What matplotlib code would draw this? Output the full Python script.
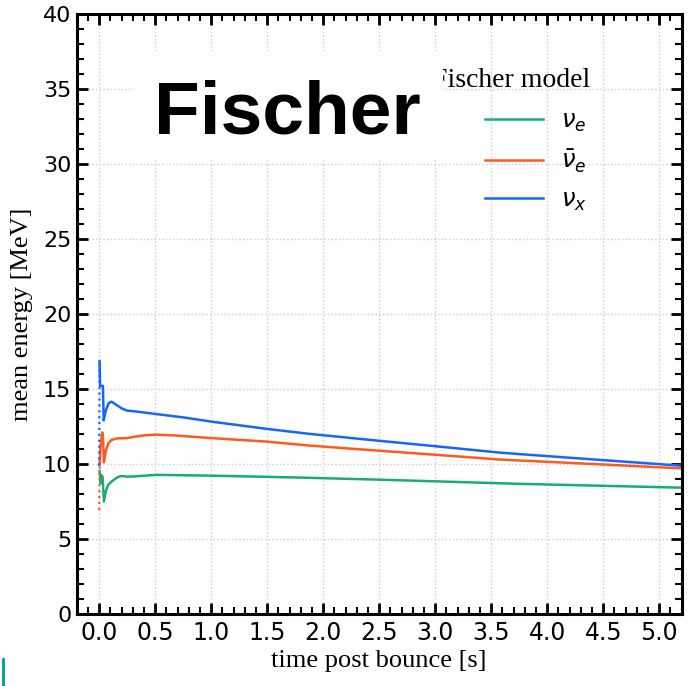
import matplotlib.pyplot as plt
from matplotlib.lines import Line2D
from matplotlib.patches import Rectangle
from matplotlib.ticker import MultipleLocator

# mean energies (t in s, E in MeV)
# first pair of each series is the short dotted rise at bounce
t_nue = [0.0, 0.005, 0.012, 0.02, 0.03, 0.042, 0.06, 0.08, 0.11, 0.16, 0.2, 0.25,
         0.32, 0.51, 0.98, 1.79, 2.5, 3.58, 3.76, 4.5, 5.18, 5.25]
e_nue = [10.0, 9.4, 8.7, 9.25, 9.15, 7.49, 8.2, 8.6, 8.82, 9.1, 9.2, 9.15,
         9.17, 9.27, 9.22, 9.09, 8.95, 8.71, 8.67, 8.54, 8.42, 8.41]

t_anue = [0.0, 0.004, 0.012, 0.027, 0.033, 0.042, 0.06, 0.08, 0.11, 0.16, 0.25,
          0.32, 0.4, 0.51, 0.69, 0.98, 1.49, 1.88, 2.5, 3.0, 3.58, 4.0, 4.5, 5.18, 5.25]
e_anue = [6.93, 10.0, 11.2, 12.1, 11.9, 10.1, 10.9, 11.35, 11.6, 11.7, 11.72,
          11.82, 11.9, 11.95, 11.89, 11.73, 11.49, 11.22, 10.88, 10.61, 10.29,
          10.14, 9.96, 9.71, 9.69]

t_nux = [0.0, 0.003, 0.008, 0.033, 0.04, 0.06, 0.085, 0.11, 0.15, 0.2, 0.25, 0.32,
         0.5, 0.75, 1.0, 1.5, 1.88, 2.5, 3.0, 3.58, 4.0, 4.5, 5.18, 5.25]
e_nux = [9.9, 16.85, 15.2, 15.2, 12.9, 13.6, 14.05, 14.15, 13.95, 13.7, 13.55, 13.5,
         13.33, 13.1, 12.82, 12.33, 12.0, 11.54, 11.18, 10.75, 10.52, 10.25, 9.89, 9.85]

labels = [r'$\nu_e$', r'$\bar{\nu}_e$', r'$\nu_x$']
colors = ['#1aab78', '#ff5a1e', '#1565ff']
series = [(t_nue, e_nue), (t_anue, e_anue), (t_nux, e_nux)]

fig = plt.figure(figsize=(6.92, 6.86), dpi=100)
ax = fig.add_axes([0.111, 0.105, 0.874, 0.875])

for (t, e), c, lab in zip(series, colors, labels):
    ax.plot(t[:2], e[:2], color=c, lw=1.6, ls=':')
    ax.plot(t[1:], e[1:], color=c, lw=1.8, label=lab)

ax.set_xlim(-0.2, 5.2)
ax.set_ylim(0, 40)
ax.xaxis.set_major_locator(MultipleLocator(0.5))
ax.xaxis.set_minor_locator(MultipleLocator(0.1))
ax.yaxis.set_major_locator(MultipleLocator(5))
ax.yaxis.set_minor_locator(MultipleLocator(1))
ax.tick_params(which='both', direction='in', top=True, right=True)
ax.tick_params(which='major', length=8, width=2)
ax.tick_params(which='minor', length=5, width=1.5)
ax.tick_params(axis='x', labelsize=17, pad=5)
ax.tick_params(axis='y', labelsize=16, pad=4)
for s in ax.spines.values():
    s.set_linewidth(2.2)
ax.grid(True, which='major', ls=':', color='#cccccc', lw=1)

ax.set_xlabel('time post bounce [s]', family='Liberation Serif', fontsize=19, labelpad=4)
ax.set_ylabel('mean energy [MeV]', family='Liberation Serif', fontsize=19, labelpad=7)

ax.legend(loc='upper left', bbox_to_anchor=(0.638, 0.878), frameon=False,
          fontsize=17.5, handlelength=2.4, handletextpad=0.75, labelspacing=0.55)
ax.text(0.587, 0.888, 'Fischer model', transform=ax.transAxes,
        family='Liberation Serif', fontsize=20, va='center', ha='left', zorder=3)

# white patch behind the big label, it hides the start of the legend title
ax.add_patch(Rectangle((0.093, 0.757), 0.512, 0.178, transform=ax.transAxes,
                       facecolor='white', edgecolor='none', zorder=4))
ax.text(0.128, 0.801, 'Fischer', transform=ax.transAxes, family='Liberation Sans',
        weight='bold', fontsize=54, va='baseline', ha='left', zorder=5)

fig.add_artist(Line2D([0.0045, 0.0045], [0.0, 0.04], color='#009a9a', lw=2,
                      transform=fig.transFigure))

fig.savefig('out.png', dpi=100)
